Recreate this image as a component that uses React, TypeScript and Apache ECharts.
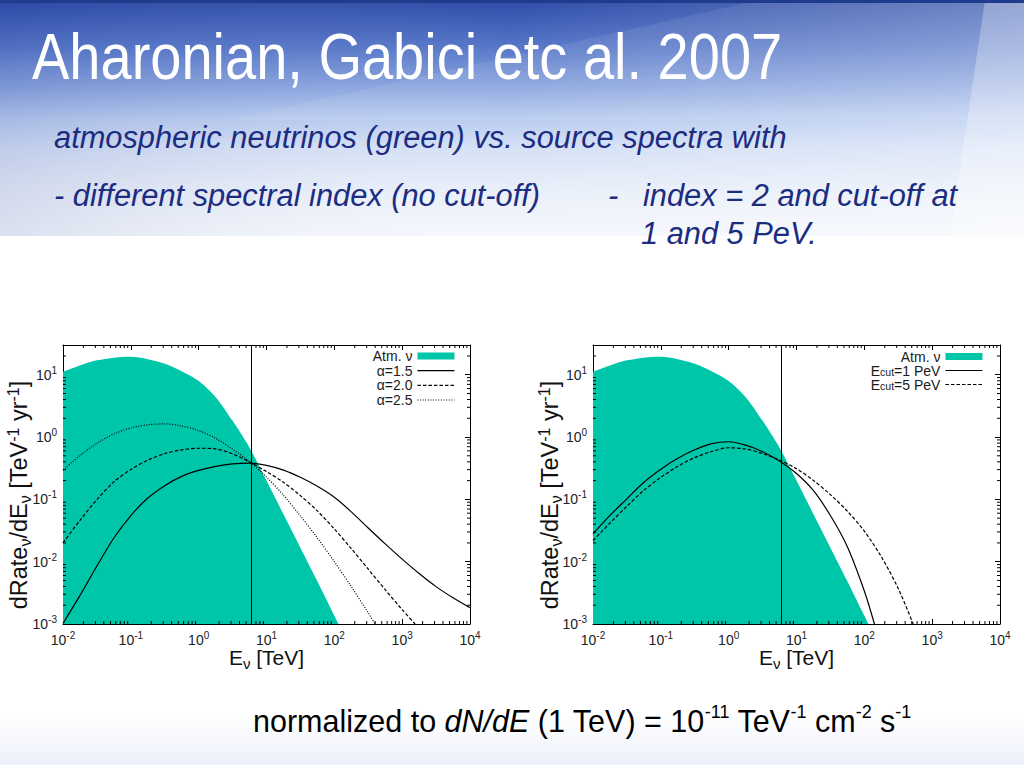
import React, { useEffect, useRef } from "react";
import * as echarts from "echarts";

// ---- data (E in TeV, dRate/dE in TeV^-1 yr^-1) ----
const ATM_NU: [number, number][] = [
  [0.01, 11.2], [0.0178, 14.1], [0.0316, 17.0], [0.0562, 18.8], [0.1, 19.4],
  [0.178, 17.8], [0.316, 15.0], [0.562, 11.4], [1, 7.94], [1.78, 4.37],
  [3.16, 1.82], [5.62, 0.676], [10, 0.2], [17.8, 0.0575], [31.6, 0.0168],
  [56.2, 0.00484], [115, 0.001],
];
const ALPHA_15: [number, number][] = [
  [0.01, 0.00102], [0.0178, 0.00288], [0.0316, 0.00851], [0.0562, 0.024],
  [0.1, 0.055], [0.178, 0.105], [0.316, 0.166], [0.562, 0.234], [1, 0.292],
  [1.78, 0.339], [3.16, 0.372], [5.62, 0.382], [10, 0.351], [17.8, 0.295],
  [31.6, 0.226], [56.2, 0.162], [100, 0.108], [178, 0.0631], [316, 0.0347],
  [562, 0.0193], [1000, 0.011], [1778, 0.00646], [3162, 0.00398],
  [5623, 0.00263], [10000, 0.00182],
];
const ALPHA_20: [number, number][] = [
  [0.01, 0.02], [0.0178, 0.0462], [0.0316, 0.0989], [0.0562, 0.191],
  [0.1, 0.302], [0.178, 0.427], [0.316, 0.543], [0.562, 0.624], [1, 0.661],
  [1.78, 0.646], [3.16, 0.537], [5.62, 0.398], [10, 0.279], [17.8, 0.188],
  [31.6, 0.115], [56.2, 0.0653], [100, 0.0335], [178, 0.0162], [316, 0.00759],
  [562, 0.00355], [1000, 0.0017], [1549, 0.001],
];
const ALPHA_25: [number, number][] = [
  [0.01, 0.295], [0.0178, 0.505], [0.0316, 0.794], [0.0562, 1.122],
  [0.1, 1.396], [0.178, 1.574], [0.316, 1.626], [0.562, 1.507], [1, 1.268],
  [1.78, 0.955], [3.16, 0.638], [5.62, 0.403], [10, 0.229], [17.8, 0.116],
  [31.6, 0.0543], [56.2, 0.024], [100, 0.01], [178, 0.00398], [316, 0.00151],
  [398, 0.001],
];
const ECUT_1PEV: [number, number][] = [
  [0.01, 0.0279], [0.0178, 0.0553], [0.0316, 0.102], [0.0562, 0.188],
  [0.1, 0.305], [0.178, 0.457], [0.316, 0.624], [0.562, 0.785], [1, 0.841],
  [1.78, 0.741], [3.16, 0.582], [5.62, 0.414], [10, 0.26], [17.8, 0.138],
  [31.6, 0.055], [56.2, 0.0174], [100, 0.00339], [141, 0.001],
];
const ECUT_5PEV: [number, number][] = [
  [0.01, 0.0219], [0.0178, 0.0417], [0.0316, 0.0776], [0.0562, 0.14],
  [0.1, 0.226], [0.178, 0.339], [0.316, 0.468], [0.562, 0.586], [1, 0.673],
  [1.78, 0.643], [3.16, 0.543], [5.62, 0.425], [10, 0.311], [17.8, 0.201],
  [31.6, 0.119], [56.2, 0.0646], [100, 0.0309], [178, 0.012], [316, 0.00372],
  [525, 0.001],
];
const VLINE_E = 5.9;

const X_MIN = 0.01;
const X_MAX = 10000;
const Y_MIN = 0.001;
const Y_MAX = 30;
const X_DECADES = [-2, -1, 0, 1, 2, 3];
const Y_DECADES = [-3, -2, -1, 0, 1];
const MINOR_MULTIPLES = [2, 3, 4, 5, 6, 7, 8, 9];

const LEFT_LEGEND = ["Atm. ν", "α=1.5", "α=2.0", "α=2.5"];
const RIGHT_LEGEND = ["Atm. ν", "Ecut=1 PeV", "Ecut=5 PeV"];

const TITLE = "Aharonian, Gabici etc al. 2007";
const SUB_1 = "atmospheric neutrinos (green) vs. source spectra with";
const SUB_2 = "- different spectral index (no cut-off)";
const SUB_3A = "-";
const SUB_3B = "index = 2 and cut-off at";
const SUB_4 = "1 and 5 PeV.";

const TEAL = "#00c6a9";
const FONT = '"Liberation Sans", Arial, Helvetica, sans-serif';
const NAVY = "#1c2c80";

const X_MINOR: number[] = [];
X_DECADES.forEach((d) => MINOR_MULTIPLES.forEach((m) => X_MINOR.push(+(m * Math.pow(10, d)).toPrecision(6))));
const Y_MINOR: number[] = [];
Y_DECADES.forEach((d) =>
  MINOR_MULTIPLES.forEach((m) => {
    const v = +(m * Math.pow(10, d)).toPrecision(6);
    if (v < Y_MAX) Y_MINOR.push(v);
  })
);

const decadeLabel = (v: number) => `{b|10}{s|${Math.round(Math.log10(v))}}`;
const tickRich = {
  b: { fontSize: 14, lineHeight: 19, fontFamily: FONT, color: "#222" },
  s: { fontSize: 10, lineHeight: 11, verticalAlign: "top", fontFamily: FONT, color: "#222" },
};

function axis(kind: "x" | "y", gridIndex: number, position: string, showLabel: boolean) {
  const isX = kind === "x";
  return {
    type: "log",
    logBase: 10,
    gridIndex,
    position,
    min: isX ? X_MIN : Y_MIN,
    max: isX ? X_MAX : Y_MAX,
    axisLine: { show: true, onZero: false, lineStyle: { color: "#000", width: 1 } },
    axisTick: { show: true, inside: true, length: 5, lineStyle: { color: "#000", width: 1 } },
    minorTick: { show: false },
    splitLine: { show: false },
    axisLabel: showLabel
      ? {
          show: true,
          formatter: decadeLabel,
          margin: 6,
          showMinLabel: true,
          showMaxLabel: isX,
          rich: tickRich,
        }
      : { show: false },
  };
}

function minorTicks(gridIdx: number, dir: "x" | "y", values: number[]) {
  return {
    name: `_minor_${dir}_${gridIdx}`,
    type: "custom",
    xAxisIndex: gridIdx * 2,
    yAxisIndex: gridIdx * 2,
    silent: true,
    clip: false,
    z: 6,
    data: values.map((v) => (dir === "x" ? [v, Y_MIN] : [X_MIN, v])),
    renderItem: (params: any, api: any) => {
      const cs = params.coordSys;
      const p = api.coord([api.value(0), api.value(1)]);
      const st = { stroke: "#000", lineWidth: 1 };
      if (dir === "x") {
        return {
          type: "group",
          children: [
            { type: "line", shape: { x1: p[0], y1: cs.y + cs.height, x2: p[0], y2: cs.y + cs.height - 3 }, style: st },
            { type: "line", shape: { x1: p[0], y1: cs.y, x2: p[0], y2: cs.y + 3 }, style: st },
          ],
        };
      }
      return {
        type: "group",
        children: [
          { type: "line", shape: { x1: cs.x, y1: p[1], x2: cs.x + 3, y2: p[1] }, style: st },
          { type: "line", shape: { x1: cs.x + cs.width, y1: p[1], x2: cs.x + cs.width - 3, y2: p[1] }, style: st },
        ],
      };
    },
  };
}

function curve(name: string, data: [number, number][], gridIdx: number, dash: any, withLine = false) {
  const s: any = {
    name,
    type: "line",
    xAxisIndex: gridIdx * 2,
    yAxisIndex: gridIdx * 2,
    data,
    symbol: "none",
    showSymbol: false,
    smooth: 0.3,
    z: 4,
    lineStyle: { color: "#000", width: 1.2, type: dash },
    itemStyle: { color: "#000" },
  };
  if (withLine) {
    s.markLine = {
      silent: true,
      symbol: ["none", "none"],
      label: { show: false },
      lineStyle: { color: "#000", width: 1, type: "solid" },
      data: [{ xAxis: VLINE_E }],
    };
  }
  return s;
}

function atm(gridIdx: number) {
  return {
    name: "Atm. ν",
    type: "line",
    xAxisIndex: gridIdx * 2,
    yAxisIndex: gridIdx * 2,
    data: ATM_NU,
    symbol: "none",
    showSymbol: false,
    smooth: 0.3,
    z: 2,
    lineStyle: { width: 0, color: TEAL },
    itemStyle: { color: TEAL },
    areaStyle: { color: TEAL, opacity: 1, origin: "start" },
  };
}

function legend(names: string[], right: number, top: number, lineHeight: number) {
  return {
    orient: "vertical",
    align: "right",
    right,
    top,
    padding: 0,
    itemGap: 0,
    itemWidth: 37,
    itemHeight: 7,
    selectedMode: false,
    data: names.map((n) =>
      n === "Atm. ν"
        ? { name: n, icon: "rect", itemStyle: { color: TEAL, borderWidth: 0 } }
        : { name: n, itemStyle: { color: "rgba(0,0,0,0)", borderColor: "rgba(0,0,0,0)", borderWidth: 0, opacity: 0 } }
    ),
    lineStyle: { width: 1.1 },
    formatter: (n: string) => (n.startsWith("Ecut") ? "E{sub|cut}" + n.slice(4) : n),
    textStyle: {
      fontSize: 14,
      lineHeight,
      fontFamily: FONT,
      color: "#1a1a1a",
      rich: { sub: { fontSize: 10.5, lineHeight: 6, verticalAlign: "bottom", fontFamily: FONT, color: "#1a1a1a" } },
    },
  };
}

const nameRich = (small: number) => ({
  sub: { fontSize: small, lineHeight: small, verticalAlign: "bottom", fontFamily: FONT, fill: "#111" },
  sup: { fontSize: small, lineHeight: small, verticalAlign: "top", fontFamily: FONT, fill: "#111" },
});

function yName(x: number, y: number) {
  return {
    type: "text",
    x,
    y,
    rotation: Math.PI / 2,
    silent: true,
    style: {
      text: "dRate{sub|ν}/dE{sub|ν} [TeV{sup|-1} yr{sup|-1}]",
      fontSize: 23.5,
      lineHeight: 28,
      fontFamily: FONT,
      fill: "#111",
      align: "center",
      verticalAlign: "middle",
      rich: nameRich(16),
    },
  };
}

function xName(x: number, y: number) {
  return {
    type: "text",
    x,
    y,
    silent: true,
    style: {
      text: "E{sub|ν} [TeV]",
      fontSize: 21,
      lineHeight: 26,
      fontFamily: FONT,
      fill: "#111",
      align: "center",
      verticalAlign: "middle",
      rich: nameRich(15),
    },
  };
}

function navyText(x: number, y: number, text: string) {
  return {
    type: "text",
    x,
    y,
    silent: true,
    style: { text, fontSize: 30.8, fontStyle: "italic", fontFamily: FONT, fill: NAVY, align: "left", verticalAlign: "middle" },
  };
}

export default function App() {
  const ref = useRef<HTMLDivElement>(null);
  useEffect(() => {
    if (!ref.current) return;
    const chart = echarts.init(ref.current, null, { renderer: "svg" });
    const option: any = {
      animation: false,
      backgroundColor: "#ffffff",
      grid: [
        { left: 63, top: 345, width: 407, height: 279, outerBoundsMode: "none", containLabel: false },
        { left: 593, top: 345, width: 407, height: 279, outerBoundsMode: "none", containLabel: false },
      ],
      xAxis: [axis("x", 0, "bottom", true), axis("x", 0, "top", false), axis("x", 1, "bottom", true), axis("x", 1, "top", false)],
      yAxis: [axis("y", 0, "left", true), axis("y", 0, "right", false), axis("y", 1, "left", true), axis("y", 1, "right", false)],
      legend: [legend(LEFT_LEGEND, 569, 348.6, 14.7), legend(RIGHT_LEGEND, 41, 349.5, 13)],
      series: [
        atm(0),
        curve("α=1.5", ALPHA_15, 0, "solid", true),
        curve("α=2.0", ALPHA_20, 0, [3.5, 2]),
        curve("α=2.5", ALPHA_25, 0, [1, 1.6]),
        atm(1),
        curve("Ecut=1 PeV", ECUT_1PEV, 1, "solid", true),
        curve("Ecut=5 PeV", ECUT_5PEV, 1, [3.5, 2]),
        minorTicks(0, "x", X_MINOR),
        minorTicks(0, "y", Y_MINOR),
        minorTicks(1, "x", X_MINOR),
        minorTicks(1, "y", Y_MINOR),
      ],
      graphic: {
        elements: [
          {
            type: "rect",
            z: -100,
            silent: true,
            shape: { x: 0, y: 0, width: 1024, height: 236 },
            style: {
              fill: {
                type: "linear", x: 0, y: 0, x2: 0, y2: 1,
                colorStops: [
                  { offset: 0, color: "#2c4ca4" },
                  { offset: 0.06, color: "#3858b2" },
                  { offset: 0.2, color: "#5777c8" },
                  { offset: 0.38, color: "#8ea8e0" },
                  { offset: 0.5, color: "#b8cbef" },
                  { offset: 0.62, color: "#d4e0f6" },
                  { offset: 0.8, color: "#e9eff9" },
                  { offset: 1, color: "#f5f8fd" },
                ],
              },
            },
          },
          {
            type: "rect",
            z: -99,
            silent: true,
            shape: { x: 0, y: 0, width: 1024, height: 236 },
            style: {
              fill: {
                type: "linear", x: 0, y: 0, x2: 1, y2: 0,
                colorStops: [
                  { offset: 0, color: "rgba(30,50,140,0.12)" },
                  { offset: 0.5, color: "rgba(255,255,255,0)" },
                  { offset: 1, color: "rgba(255,255,255,0.25)" },
                ],
              },
            },
          },
          {
            type: "polygon",
            z: -98,
            silent: true,
            shape: { points: [[760, 0], [1024, 0], [1024, 120], [230, 120]] },
            style: { fill: "rgba(255,255,255,0.08)" },
          },
          {
            type: "polygon",
            z: -97,
            silent: true,
            shape: { points: [[985, 0], [1024, 0], [1024, 236], [950, 236]] },
            style: { fill: "rgba(255,255,255,0.28)" },
          },
          { type: "rect", z: -96, silent: true, shape: { x: 0, y: 0, width: 1024, height: 3 }, style: { fill: "#1f3b8e" } },
          {
            type: "rect",
            z: -96,
            silent: true,
            shape: { x: 0, y: 715, width: 1024, height: 50 },
            style: {
              fill: {
                type: "linear", x: 0, y: 0, x2: 0, y2: 1,
                colorStops: [
                  { offset: 0, color: "rgba(236,240,250,0)" },
                  { offset: 1, color: "#edf0fa" },
                ],
              },
            },
          },
          {
            type: "text",
            x: 32,
            y: 57,
            scaleX: 0.875,
            silent: true,
            style: { text: TITLE, fontSize: 64, fontFamily: FONT, fill: "#ffffff", align: "left", verticalAlign: "middle" },
          },
          navyText(54, 137.6, SUB_1),
          navyText(54, 195.6, SUB_2),
          navyText(608, 195.6, SUB_3A),
          navyText(643, 195.6, SUB_3B),
          navyText(641, 233.6, SUB_4),
          yName(19, 495),
          yName(550, 495),
          xName(266.5, 657.6),
          xName(796.5, 657.6),
          {
            type: "text",
            x: 253,
            y: 703,
            silent: true,
            style: {
              text: "{n|normalized to }{i|dN/dE}{n| (1 TeV) = 10}{s|-11}{n| TeV}{s|-1}{n| cm}{s|-2}{n| s}{s|-1}",
              align: "left",
              verticalAlign: "top",
              fontSize: 30.5,
              fontFamily: FONT,
              fill: "#000",
              rich: {
                n: { fontSize: 30.5, lineHeight: 36, fontFamily: FONT, fill: "#000" },
                i: { fontSize: 30.5, lineHeight: 36, fontStyle: "italic", fontFamily: FONT, fill: "#000" },
                s: { fontSize: 18, lineHeight: 22, verticalAlign: "top", fontFamily: FONT, fill: "#000" },
              },
            },
          },
        ],
      },
    };
    chart.setOption(option);
    return () => chart.dispose();
  }, []);
  return <div ref={ref} style={{ position: "absolute", left: 0, top: 0, width: 1024, height: 765 }} />;
}
